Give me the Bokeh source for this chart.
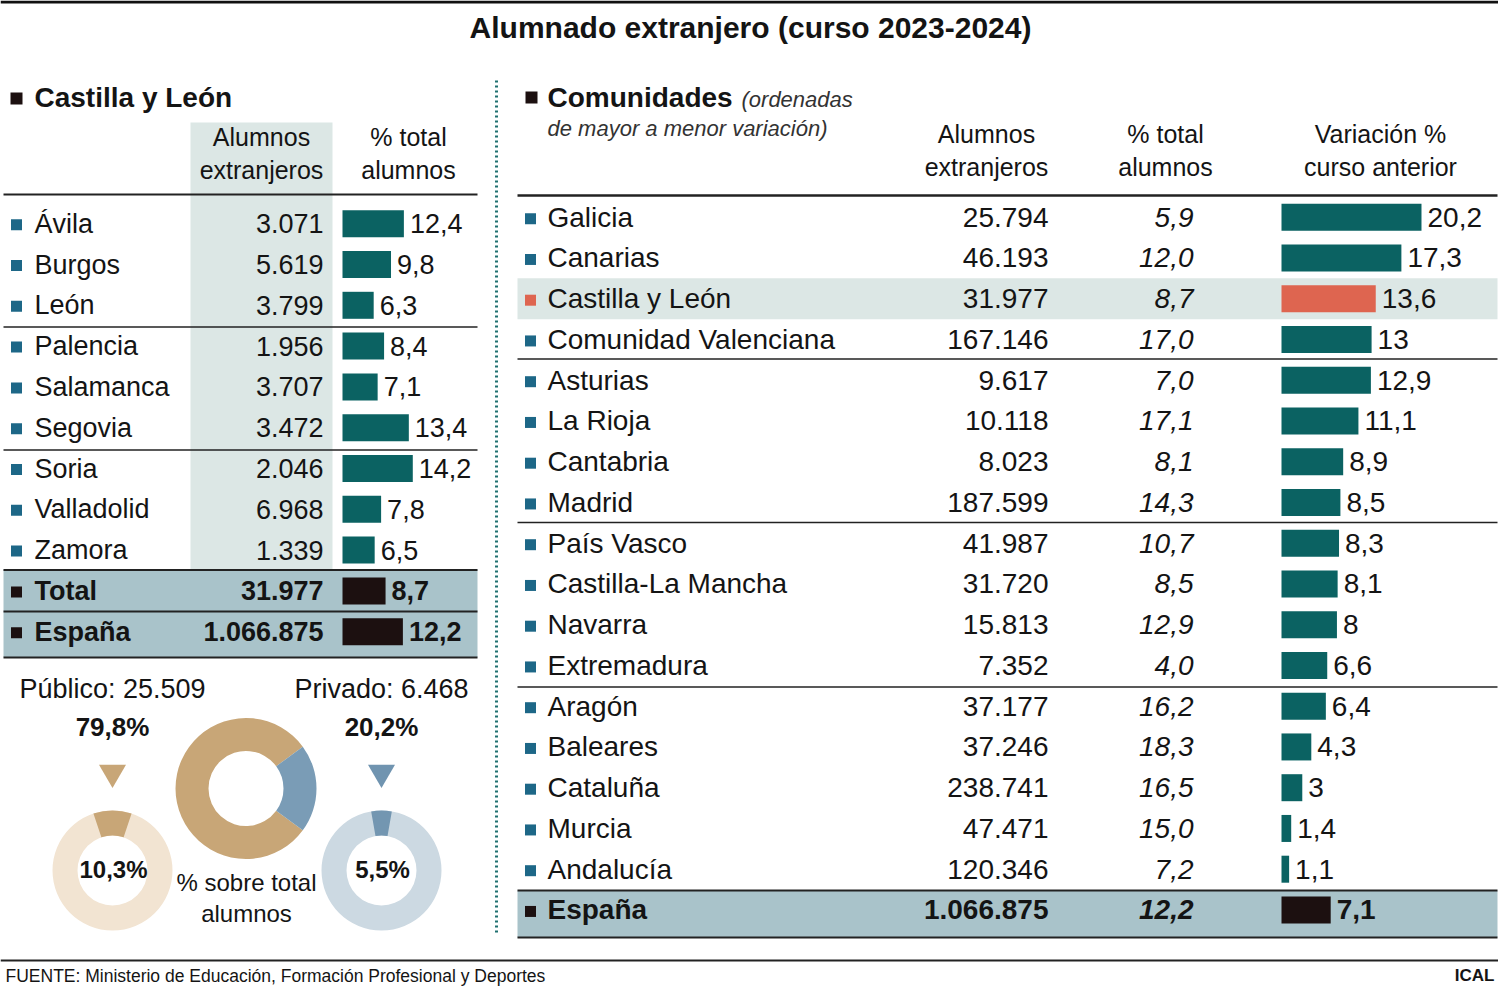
import math
from bokeh.plotting import figure
from bokeh.models import Range1d
from bokeh.core.properties import value
from bokeh.embed import file_html
from bokeh.resources import INLINE

# ---------------- DATA ----------------
title = "Alumnado extranjero (curso 2023-2024)"

cyl_provincias = ["Ávila", "Burgos", "León", "Palencia", "Salamanca", "Segovia",
                  "Soria", "Valladolid", "Zamora"]
cyl_alumnos = [3071, 5619, 3799, 1956, 3707, 3472, 2046, 6968, 1339]
cyl_pct = [12.4, 9.8, 6.3, 8.4, 7.1, 13.4, 14.2, 7.8, 6.5]
cyl_total_labels = ["Total", "España"]
cyl_total_alumnos = [31977, 1066875]
cyl_total_pct = [8.7, 12.2]

titularidad = ["Público", "Privado"]
titularidad_alumnos = [25509, 6468]
titularidad_share = [79.8, 20.2]
titularidad_pct_total = [10.3, 5.5]

ccaa = ["Galicia", "Canarias", "Castilla y León", "Comunidad Valenciana", "Asturias",
        "La Rioja", "Cantabria", "Madrid", "País Vasco", "Castilla-La Mancha", "Navarra",
        "Extremadura", "Aragón", "Baleares", "Cataluña", "Murcia", "Andalucía"]
ccaa_alumnos = [25794, 46193, 31977, 167146, 9617, 10118, 8023, 187599, 41987, 31720,
                15813, 7352, 37177, 37246, 238741, 47471, 120346]
ccaa_pct = [5.9, 12.0, 8.7, 17.0, 7.0, 17.1, 8.1, 14.3, 10.7, 8.5, 12.9, 4.0, 16.2,
            18.3, 16.5, 15.0, 7.2]
ccaa_var = [20.2, 17.3, 13.6, 13, 12.9, 11.1, 8.9, 8.5, 8.3, 8.1, 8, 6.6, 6.4, 4.3,
            3, 1.4, 1.1]
espana_alumnos = 1066875
espana_pct = 12.2
espana_var = 7.1

fuente = "FUENTE: Ministerio de Educación, Formación Profesional y Deportes"
firma = "ICAL"

# ---------------- STYLE ----------------
FONT = "Liberation Sans"
TXT = "#141414"
TEAL = "#0b6262"
BULLET = "#1d6787"
CORAL = "#de6550"
DARK = "#1c1010"
SHADE = "#dce7e5"
BAND = "#a9c3ca"
TAN = "#c8a677"
TAN_L = "#f2e4d2"
BLUE = "#7a9cb6"
BLUE_L = "#ccd9e2"
LINE = "#222222"


def miles(n):
    return f"{n:,}".replace(",", ".")


def dec(v):
    return f"{v:.1f}".replace(".", ",")


def dec_var(v):
    return str(int(v)) if float(v).is_integer() else dec(v)


W, H = 1498, 988
p = figure(width=W, height=H, x_range=Range1d(0, W), y_range=Range1d(H, 0),
           output_backend="svg", toolbar_location=None, min_border=0,
           x_axis_location=None, y_axis_location=None)
p.grid.visible = False
p.outline_line_color = None
p.background_fill_color = "white"
p.border_fill_color = "white"

# bar scales (pixels per unit) as extra ranges
KL, X0L = 4.95, 342
KR, X0R = 6.93, 1281
p.extra_x_ranges = {
    "cyl": Range1d(start=(0 - X0L) / KL, end=(W - X0L) / KL),
    "ccaa": Range1d(start=(0 - X0R) / KR, end=(W - X0R) / KR),
}


def txt(x, y, s, size, style="normal", align="left", color=TXT, **kw):
    # y = visual vertical centre of the text line
    if not isinstance(x, list):
        x, y, s = [x], [y], [s]
    p.text(x=x, y=y, text=s, text_font=value(FONT), text_font_size=f"{size}px",
           text_font_style=style, text_align=align, text_baseline="alphabetic",
           text_color=color, **kw)


def hline(y, x0, x1, w=2, color=LINE):
    p.segment(x0=[x0], y0=[y], x1=[x1], y1=[y], line_color=color, line_width=w)


# ---------------- TITLE ----------------
hline(1.5, 0, W, w=3, color="#111111")
txt(750, 27, title, 30, "bold", "center")

# ---------------- LEFT: Castilla y León ----------------
p.rect(x=[16], y=[98], width=12, height=12, fill_color=DARK, line_color=None)
txt(34, 97, "Castilla y León", 28, "bold")

p.quad(left=[190], right=[332], top=[122], bottom=[569], fill_color=SHADE, line_color=None)
txt([261, 261], [136, 169], ["Alumnos", "extranjeros"], 25, align="center")
txt([408, 408], [136, 169], ["% total", "alumnos"], 25, align="center")

LY0, LP = 223.2, 40.8
ly = [LY0 + i * LP for i in range(len(cyl_provincias))]
ty = [LY0 + (len(cyl_provincias) + i) * LP for i in range(2)]

p.quad(left=[3], right=[477], top=[569], bottom=[657], fill_color=BAND, line_color=None)
hline(194, 3, 477, 2.2)
hline(326.5, 3, 477, 1.6)
hline(449.5, 3, 477, 1.6)
hline(569.5, 3, 477, 2)
hline(611, 3, 477, 2)
hline(657, 3, 477, 2)

p.rect(x=[16] * len(ly), y=[y + 1 for y in ly], width=11, height=11, fill_color=BULLET,
       line_color=None)
p.rect(x=[16] * 2, y=[y + 1 for y in ty], width=11, height=11, fill_color=DARK,
       line_color=None)
txt([34] * len(ly), ly, cyl_provincias, 27)
txt([323] * len(ly), ly, [miles(v) for v in cyl_alumnos], 27, align="right")
p.hbar(y=ly, left=0, right=cyl_pct, height=27, fill_color=TEAL, line_color=None,
       x_range_name="cyl")
txt(cyl_pct, ly, [dec(v) for v in cyl_pct], 27, x_offset=6, x_range_name="cyl")

txt([34] * 2, ty, cyl_total_labels, 27, "bold")
txt([323] * 2, ty, [miles(v) for v in cyl_total_alumnos], 27, "bold", "right")
p.hbar(y=ty, left=0, right=cyl_total_pct, height=27, fill_color=DARK, line_color=None,
       x_range_name="cyl")
txt(cyl_total_pct, ty, [dec(v) for v in cyl_total_pct], 27, "bold", x_offset=6,
    x_range_name="cyl")

# ---------------- Donuts ----------------
cx = [112, 381]
txt(cx, [688, 688], [f"{n}: {miles(v)}" for n, v in zip(titularidad, titularidad_alumnos)],
    27, align="center")
txt(cx, [726, 726], [dec(v) + "%" for v in titularidad_share], 26, "bold", "center")
p.scatter(x=cx, y=[772, 772], marker="inverted_triangle", size=27,
          fill_color=[TAN, "#7094b0"], line_color=None)

# central donut (share público / privado)
priv = titularidad_share[1] / 100 * 2 * math.pi
p.annular_wedge(x=[245.5], y=[788], inner_radius=37.5, outer_radius=70.5,
                start_angle=[priv / 2], end_angle=[2 * math.pi - priv / 2],
                fill_color=TAN, line_color=None)
p.annular_wedge(x=[245.5], y=[788], inner_radius=37.5, outer_radius=70.5,
                start_angle=[-priv / 2], end_angle=[priv / 2],
                fill_color=BLUE, line_color=None)
txt([246, 246], [882, 913], ["% sobre total", "alumnos"], 24, align="center")

# small donuts (% sobre total alumnos)
light = [TAN_L, BLUE_L]
darkc = [TAN, "#7396b1"]
for i in range(2):
    span = titularidad_pct_total[i] / 100 * 2 * math.pi
    p.annulus(x=[cx[i]], y=[870], inner_radius=35, outer_radius=60,
              fill_color=light[i], line_color=None)
    p.annular_wedge(x=[cx[i]], y=[870], inner_radius=35, outer_radius=60,
                    start_angle=[math.pi / 2 - span / 2], end_angle=[math.pi / 2 + span / 2],
                    fill_color=darkc[i], line_color=None)
    txt(cx[i] + 1, 869, dec(titularidad_pct_total[i]) + "%", 24, "bold", "center")

# ---------------- divider ----------------
p.segment(x0=[496], y0=[80], x1=[496], y1=[934], line_color="#1f7070", line_width=3,
          line_dash="2 3")

# ---------------- RIGHT: Comunidades ----------------
p.rect(x=[531], y=[97], width=12, height=12, fill_color=DARK, line_color=None)
txt(547, 97, "Comunidades", 28, "bold")
txt(741, 99, "(ordenadas", 22, "italic", color="#333333")
txt(547, 128, "de mayor a menor variación)", 22, "italic", color="#333333")

txt([986, 986], [133, 166], ["Alumnos", "extranjeros"], 25, align="center")
txt([1165, 1165], [133, 166], ["% total", "alumnos"], 25, align="center")
txt([1380, 1380], [133, 166], ["Variación %", "curso anterior"], 25, align="center")

RY0, RP = 216.7, 40.75
ry = [RY0 + i * RP for i in range(len(ccaa))]
ey = RY0 + len(ccaa) * RP
hl = ccaa.index("Castilla y León")

p.quad(left=[517], right=[1497], top=[ry[hl] - 20.5], bottom=[ry[hl] + 20.5],
       fill_color=SHADE, line_color=None)
p.quad(left=[517], right=[1497], top=[890], bottom=[937], fill_color=BAND, line_color=None)
hline(195, 517, 1497, 2.4)
hline(358.5, 517, 1497, 1.6)
hline(522, 517, 1497, 1.6)
hline(686.5, 517, 1497, 1.6)
hline(890, 517, 1497, 2)
hline(937, 517, 1497, 2)

bcol = [CORAL if n == "Castilla y León" else BULLET for n in ccaa]
barcol = [CORAL if n == "Castilla y León" else TEAL for n in ccaa]
p.rect(x=[530] * len(ry), y=[y + 1.5 for y in ry], width=11, height=11, fill_color=bcol,
       line_color=None)
txt([547] * len(ry), ry, ccaa, 28)
txt([1048] * len(ry), ry, [miles(v) for v in ccaa_alumnos], 28, align="right")
txt([1193] * len(ry), ry, [dec(v) for v in ccaa_pct], 28, "italic", "right")
p.hbar(y=ry, left=0, right=ccaa_var, height=27, fill_color=barcol, line_color=None,
       x_range_name="ccaa")
txt(ccaa_var, ry, [dec_var(v) for v in ccaa_var], 28, x_offset=6, x_range_name="ccaa")

p.rect(x=[530], y=[ey + 1.5], width=11, height=11, fill_color=DARK, line_color=None)
txt(547, ey, "España", 28, "bold")
txt(1048, ey, miles(espana_alumnos), 28, "bold", "right")
txt(1193, ey, dec(espana_pct), 28, "bold italic", "right")
p.hbar(y=[ey], left=0, right=[espana_var], height=27, fill_color=DARK, line_color=None,
       x_range_name="ccaa")
txt([espana_var], [ey], [dec_var(espana_var)], 28, "bold", x_offset=6,
    x_range_name="ccaa")

# ---------------- FOOTER ----------------
hline(960, 0, W, 2)
txt(5, 975, fuente, 17.5)
txt(1494, 975, firma, 17, "bold", "right")

open("out.html", "w").write(file_html(p, INLINE))
